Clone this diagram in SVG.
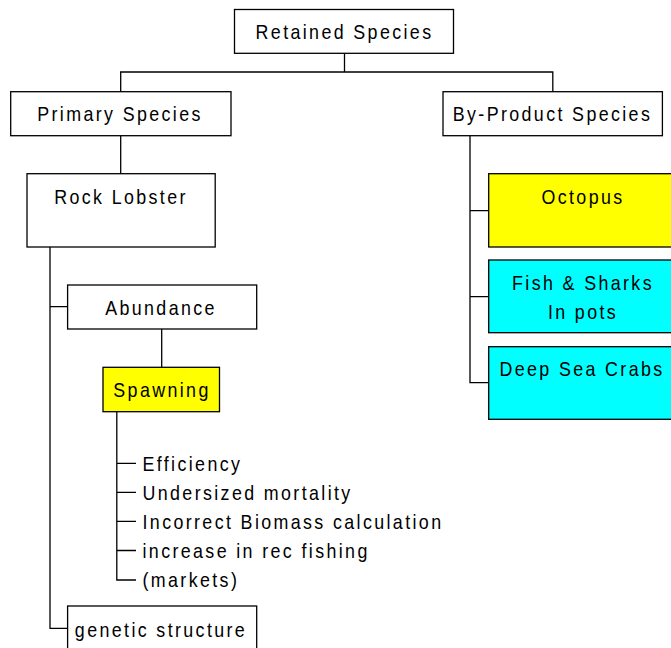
<svg xmlns="http://www.w3.org/2000/svg" width="671" height="648" viewBox="0 0 671 648">
  <style>
    .box { fill: #ffffff; stroke: #000000; stroke-width: 1.3; }
    .yellow { fill: #ffff00; }
    .cyan { fill: #00ffff; }
    /* condensed, tracked sans labels: each label is placed with translate() then squeezed horizontally */
    .lbl { font-family: "Liberation Sans", Arial, sans-serif; font-size: 21px; letter-spacing: 2.8px; fill: #000000; }
    .mid { text-anchor: middle; }
    .conn { fill: none; stroke: #000000; stroke-width: 1.3; }
  </style>
  <rect width="671" height="648" fill="#ffffff"/>

  <!-- connectors -->
  <g id="connectors" class="conn">
    <path d="M344.5,53.3 V72 M120.7,91.7 V72 H552.8 V91.7"/>
    <path d="M120.7,135.7 V173.7"/>
    <path d="M50,247 V628.3 H67.6 M50,306.7 H67.6"/>
    <path d="M161.7,329 V367.3"/>
    <path d="M116.8,411.7 V580 H136 M116.8,463.3 H136 M116.8,492.3 H136 M116.8,521.3 H136 M116.8,550.5 H136"/>
    <path d="M470,135.7 V382.7 H488.7 M470,210.7 H488.7 M470,296.7 H488.7"/>
  </g>

  <g id="retained-species">
    <rect class="box" x="234.5" y="9.5" width="219" height="43.8"/>
    <text class="lbl mid" transform="translate(344.5,39) scale(0.85,1)">Retained Species</text>
  </g>

  <g id="primary-species">
    <rect class="box" x="10.7" y="91.7" width="220.3" height="44"/>
    <text class="lbl mid" transform="translate(120,121) scale(0.85,1)">Primary Species</text>
  </g>

  <g id="by-product-species">
    <rect class="box" x="443" y="91.7" width="219.4" height="44"/>
    <text class="lbl mid" transform="translate(552.5,121) scale(0.85,1)">By-Product Species</text>
  </g>

  <g id="rock-lobster">
    <rect class="box" x="27" y="173.7" width="188.2" height="73.3"/>
    <text class="lbl mid" transform="translate(121,204) scale(0.85,1)">Rock Lobster</text>
  </g>

  <g id="abundance">
    <rect class="box" x="67.6" y="285" width="189.1" height="44"/>
    <text class="lbl mid" transform="translate(161,315) scale(0.85,1)">Abundance</text>
  </g>

  <g id="spawning">
    <rect class="box yellow" x="103" y="367.3" width="116.5" height="44.4"/>
    <text class="lbl mid" transform="translate(162,397) scale(0.85,1)">Spawning</text>
  </g>

  <g id="spawning-factors">
    <text class="lbl" transform="translate(142.5,470.7) scale(0.85,1)">Efficiency</text>
    <text class="lbl" transform="translate(142.5,499.7) scale(0.85,1)">Undersized mortality</text>
    <text class="lbl" transform="translate(142.5,528.7) scale(0.85,1)">Incorrect Biomass calculation</text>
    <text class="lbl" transform="translate(142.5,557.7) scale(0.85,1)">increase in rec fishing</text>
    <text class="lbl" transform="translate(142.5,586.7) scale(0.85,1)">(markets)</text>
  </g>

  <g id="genetic-structure">
    <rect class="box" x="67.6" y="606" width="189.1" height="50"/>
    <text class="lbl mid" transform="translate(161,636.7) scale(0.85,1)">genetic structure</text>
  </g>

  <g id="octopus">
    <rect class="box yellow" x="488.7" y="173.7" width="187" height="73.3"/>
    <text class="lbl mid" transform="translate(583,204) scale(0.85,1)">Octopus</text>
  </g>

  <g id="fish-sharks">
    <rect class="box cyan" x="488.7" y="260" width="187" height="72.7"/>
    <text class="lbl mid" transform="translate(583,290) scale(0.85,1)">Fish &amp; Sharks</text>
    <text class="lbl mid" transform="translate(583,319) scale(0.85,1)">In pots</text>
  </g>

  <g id="deep-sea-crabs">
    <rect class="box cyan" x="488.7" y="346.7" width="187" height="72.6"/>
    <text class="lbl mid" transform="translate(582,376) scale(0.85,1)">Deep Sea Crabs</text>
  </g>
</svg>
